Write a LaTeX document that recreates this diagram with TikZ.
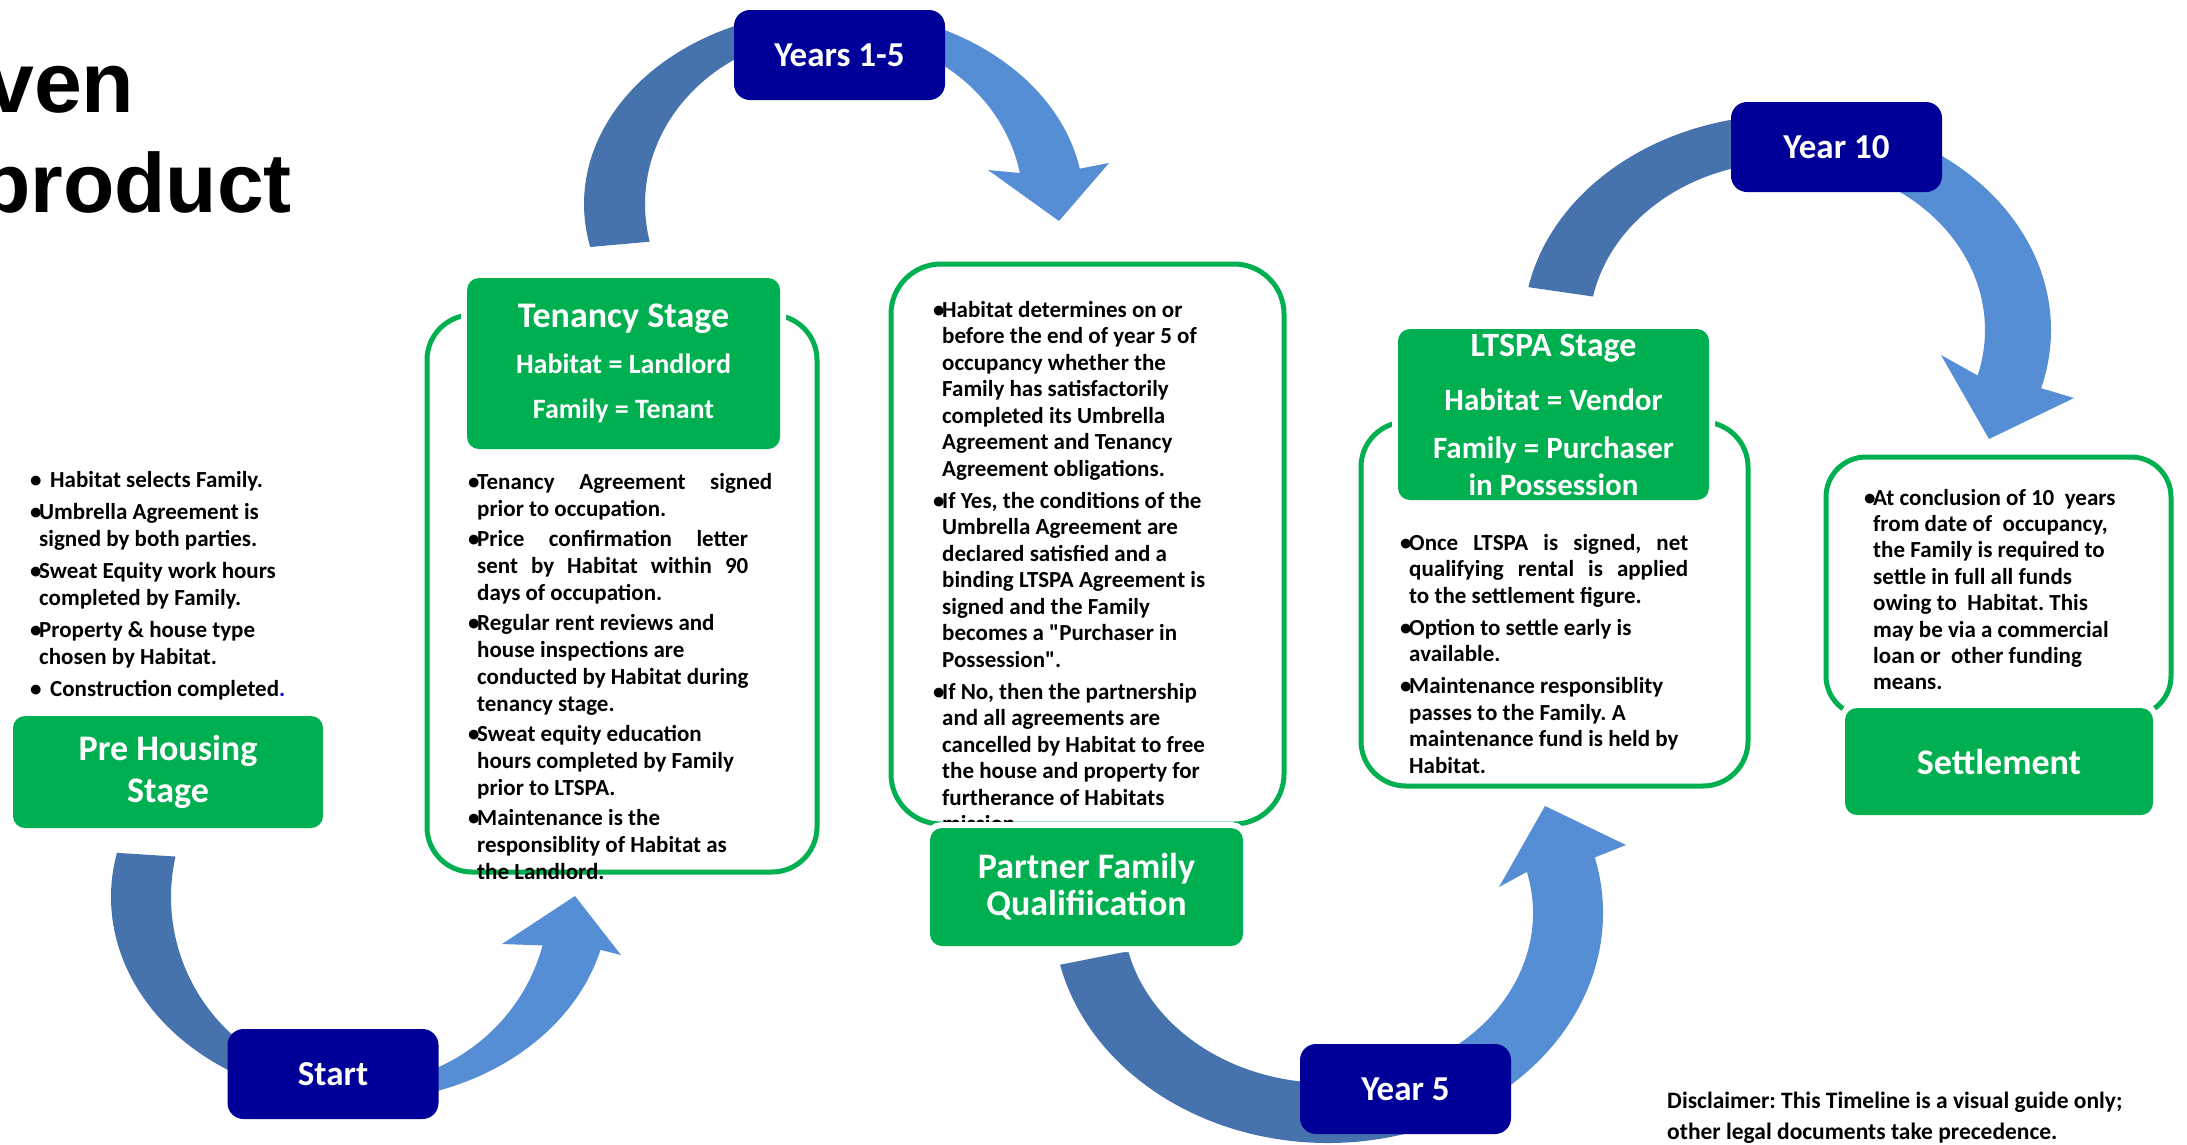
\documentclass[tikz,border=0pt]{standalone}
\usepackage{fontspec}
\setmainfont{Carlito}
\newfontfamily\titlefont{Liberation Sans}
\usetikzlibrary{calc,positioning}
\frenchspacing

\definecolor{hgreen}{HTML}{00B050}
\definecolor{hnavy}{HTML}{000099}
\definecolor{arcdark}{HTML}{4672AD}
\definecolor{arclight}{HTML}{558ED5}

\newcommand\itemdot{\makebox[9pt][l]{\textbullet}}
\newcommand\cont{\hspace*{9pt}}

\begin{document}
\begin{tikzpicture}[x=1pt,y=1pt,
  stage/.style={fill=hgreen, text=white, rounded corners=12pt, inner sep=0pt, align=center,
    preaction={draw=white, line width=12pt}, font=\fontsize{36}{42}\selectfont\bfseries},
  year/.style={fill=hnavy, text=white, rounded corners=16pt, inner sep=0pt,
    minimum width=211pt, minimum height=90pt, font=\fontsize{35}{40}\selectfont\bfseries},
  panel/.style={draw=hgreen, line width=5pt, rounded corners=45pt},
  notes/.style={anchor=base west, inner sep=0pt, font=\fontsize{23}{27}\selectfont\bfseries},
  darkarc/.style={fill=arcdark},
  lightarc/.style={fill=arclight}]
\path[use as bounding box, fill=white] (0,0) rectangle (2187,-1144);

% centres of the four curved arrows
\coordinate (cA) at (360,-897);
\coordinate (cB) at (1328,-913);
\coordinate (cC) at (834,-204);
\coordinate (cD) at (1787,-330);

% start arrow
\fill[darkarc] ($(cA)+(167.5:249pt and 204pt)$) arc[start angle=167.5, end angle=265, x radius=249pt, y radius=204pt]
  -- ($(cA)+(265:189pt and 187pt)$) arc[start angle=265, end angle=167.5, x radius=189pt, y radius=187pt] -- cycle;
\fill[lightarc] ($(cA)+(265:249pt and 204pt)$) arc[start angle=265, end angle=345, x radius=249pt, y radius=204pt]
  -- (621,-955) -- (575,-896) -- (502,-944)
  -- ($(cA)+(345:189pt and 187pt)$) arc[start angle=345, end angle=265, x radius=189pt, y radius=187pt] -- cycle;

% years 1-5 arrow
\fill[darkarc] ($(cC)+(192.8:250pt and 194pt)$) arc[start angle=192.8, end angle=90, x radius=250pt, y radius=194pt]
  -- ($(cC)+(90:189pt and 170pt)$) arc[start angle=90, end angle=192.8, x radius=189pt, y radius=170pt] -- cycle;
\fill[lightarc] ($(cC)+(90:250pt and 194pt)$) arc[start angle=90, end angle=10.5, x radius=250pt, y radius=194pt]
  -- (1109,-163) -- (1059,-221) -- (988,-170)
  -- ($(cC)+(10.5:189pt and 170pt)$) arc[start angle=10.5, end angle=90, x radius=189pt, y radius=170pt] -- cycle;

% year 5 arrow
\fill[darkarc] ($(cB)+(193:275pt and 230pt)$) arc[start angle=193, end angle=300, x radius=275pt, y radius=230pt]
  -- ($(cB)+(300:205pt and 170pt)$) arc[start angle=300, end angle=193, x radius=205pt, y radius=170pt] -- cycle;
\fill[lightarc] ($(cB)+(300:275pt and 230pt)$) arc[start angle=300, end angle=374, x radius=275pt, y radius=230pt]
  -- (1626,-845) -- (1545,-806) -- (1499,-887)
  -- ($(cB)+(374:205pt and 170pt)$) arc[start angle=374, end angle=300, x radius=205pt, y radius=170pt] -- cycle;

% year 10 arrow
\fill[darkarc] ($(cD)+(168.5:264pt and 215pt)$) arc[start angle=168.5, end angle=79, x radius=264pt, y radius=215pt]
  -- ($(cD)+(79:198pt and 168pt)$) arc[start angle=79, end angle=168.5, x radius=198pt, y radius=168pt] -- cycle;
\fill[lightarc] ($(cD)+(79:264pt and 215pt)$) arc[start angle=79, end angle=-15.7, x radius=264pt, y radius=215pt]
  -- (2074,-398) -- (1989,-439) -- (1941,-355)
  -- ($(cD)+(-15.7:198pt and 168pt)$) arc[start angle=-15.7, end angle=79, x radius=198pt, y radius=168pt] -- cycle;

\node[year] (years) at (839.5,-55) {Years 1-5};
\node[year] (start) at (333,-1074) {Start};
\node[year] (year5) at (1405.5,-1089) {Year 5};
\node[year] (year10) at (1836.5,-147) {Year 10};

\node[anchor=base west, inner sep=0pt, font=\titlefont\bfseries\fontsize{86}{100}\selectfont] (title1) at (-14,-112) {ven};
\node[anchor=base west, inner sep=0pt, font=\titlefont\bfseries\fontsize{84}{100}\selectfont] (title2) at (-21,-212) {product};

% stage panels
\draw[panel] (427,-315) rectangle (817,-872);
\draw[panel, rounded corners=50pt] (891,-264) rectangle (1284,-824);
\draw[panel] (1361,-422) rectangle (1748,-786);
\draw[panel, rounded corners=40pt] (1826,-457) rectangle (2171,-716);

\node[notes] (prelist) at (30,-487) {\begin{tabular}[t]{@{}l@{}}
\itemdot\hspace{11pt}Habitat selects Family.\\[5pt]
\itemdot Umbrella Agreement is\\
\cont signed by both parties.\\[5pt]
\itemdot Sweat Equity work hours\\
\cont completed by Family.\\[5pt]
\itemdot Property \& house type\\
\cont chosen by Habitat.\\[5pt]
\itemdot\hspace{11pt}Construction completed\textcolor{blue}{.}
\end{tabular}};

\node[notes] (tenlist) at (468,-489) {\begin{tabular}[t]{@{}l@{}}
\itemdot\makebox[295pt][s]{Tenancy Agreement signed}\\
\cont prior to occupation.\\[3pt]
\itemdot\makebox[271pt][s]{Price confirmation letter}\\
\cont\makebox[271pt][s]{sent by Habitat within 90}\\
\cont days of occupation.\\[3pt]
\itemdot Regular rent reviews and\\
\cont house inspections are\\
\cont conducted by Habitat during\\
\cont tenancy stage.\\[3pt]
\itemdot Sweat equity education\\
\cont hours completed by Family\\
\cont prior to LTSPA.\\[3pt]
\itemdot Maintenance is the\\
\cont responsiblity of Habitat as\\
\cont the Landlord.
\end{tabular}};

\node[notes, font=\fontsize{23}{26.5}\selectfont\bfseries] (qualist) at (933,-317) {\begin{tabular}[t]{@{}l@{}}
\itemdot Habitat determines on or\\
\cont before the end of year 5 of\\
\cont occupancy whether the\\
\cont Family has satisfactorily\\
\cont completed its Umbrella\\
\cont Agreement and Tenancy\\
\cont Agreement obligations.\\[5.5pt]
\itemdot If Yes, the conditions of the\\
\cont Umbrella Agreement are\\
\cont declared satisfied and a\\
\cont binding LTSPA Agreement is\\
\cont signed and the Family\\
\cont becomes a \textquotedbl Purchaser in\\
\cont Possession\textquotedbl.\\[5.5pt]
\itemdot If No, then the partnership\\
\cont and all agreements are\\
\cont cancelled by Habitat to free\\
\cont the house and property for\\
\cont furtherance of Habitats\\
\cont mission.
\end{tabular}};

\node[notes, font=\fontsize{23}{26.7}\selectfont\bfseries] (ltslist) at (1400,-550) {\begin{tabular}[t]{@{}l@{}}
\itemdot\makebox[279pt][s]{Once LTSPA is signed, net}\\
\cont\makebox[279pt][s]{qualifying rental is applied}\\
\cont to the settlement figure.\\[5pt]
\itemdot Option to settle early is\\
\cont available.\\[5pt]
\itemdot Maintenance responsiblity\\
\cont passes to the Family. A\\
\cont maintenance fund is held by\\
\cont Habitat.
\end{tabular}};

\node[notes, font=\fontsize{23}{26.4}\selectfont\bfseries] (setlist) at (1864,-505) {\begin{tabular}[t]{@{}l@{}}
\itemdot At conclusion of 10~ years\\
\cont from date of~ occupancy,\\
\cont the Family is required to\\
\cont settle in full all funds\\
\cont owing to~ Habitat. This\\
\cont may be via a commercial\\
\cont loan or~ other funding\\
\cont means.
\end{tabular}};

% green stage labels
\node[stage, minimum width=310pt, minimum height=112pt] (prehousing) at (168,-772) {Pre Housing\\Stage};
\node[stage, minimum width=313pt, minimum height=171pt, font=\fontsize{28}{45.5}\selectfont\bfseries] (tenancy) at (623.5,-363.5)
  {{\fontsize{36}{45.5}\selectfont Tenancy Stage}\\Habitat = Landlord\\Family = Tenant};
\node[stage, minimum width=313pt, minimum height=118pt, font=\fontsize{36}{37}\selectfont\bfseries] (partner) at (1086.5,-887)
  {Partner Family\\Qualifiication};
\node[stage, minimum width=311pt, minimum height=171pt, font=\fontsize{31}{37}\selectfont\bfseries] (ltspa) at (1553.5,-414.5)
  {{\fontsize{34}{37}\selectfont LTSPA Stage}\\[17pt]Habitat = Vendor\\[11pt]Family = Purchaser\\in Possession};
\node[stage, minimum width=308pt, minimum height=107pt] (settlement) at (1999,-761.5) {Settlement};

\node[notes, font=\fontsize{23.5}{31}\selectfont\bfseries] (disclaimer) at (1667,-1108) {\begin{tabular}[t]{@{}l@{}}
Disclaimer: This Timeline is a visual guide only;\\
other legal documents take precedence.
\end{tabular}};
\end{tikzpicture}
\end{document}
